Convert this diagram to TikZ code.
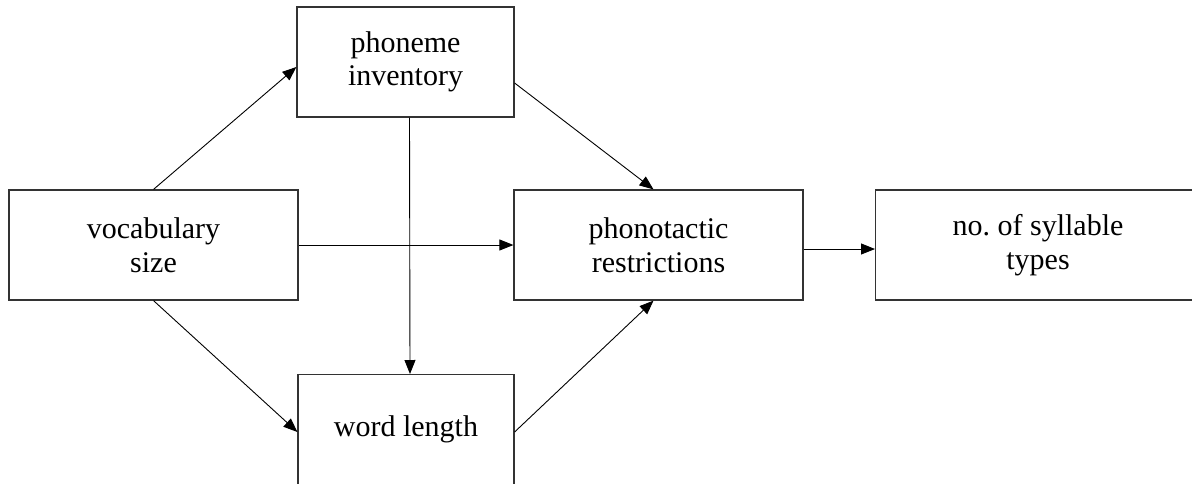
\documentclass[tikz,border=0pt]{standalone}
\usepackage{fontspec}
\setmainfont{Liberation Serif}
\usetikzlibrary{arrows.meta}
\begin{document}
\begin{tikzpicture}[x=1pt,y=-1pt,
  txt/.style={align=center,inner sep=0pt,font=\fontsize{30}{33.5}\selectfont},
  box/.style={draw=black!80,line width=1.2pt,fill=white,inner sep=0pt,txt},
  link/.style={line width=0.9pt,-{Triangle[length=14pt,width=11pt]}}]
\useasboundingbox (0,0) rectangle (1192,483);
\clip (0,0) rectangle (1192,483);
% boxes
\node[box,minimum width=217pt,minimum height=110pt] (phon) at (405.5,62) {phoneme\\inventory};
\node[box,minimum width=289pt,minimum height=110pt] (vocab) at (153.5,245) {vocabulary\\size};
\node[box,minimum width=289pt,minimum height=110pt] (tact) at (658.5,245) {phonotactic\\restrictions};
% the two boxes running off the edge of the page
\node[box,minimum width=420pt,minimum height=110pt,anchor=west,
  label={[txt,anchor=center,xshift=163pt]west:no.\ of syllable\\types}] (syl) at (875,245) {};
\node[box,minimum width=216pt,minimum height=150pt,anchor=north,
  label={[txt,anchor=center,yshift=-55pt]north:word length}] (word) at (406,374) {};
% connectors
\draw[link] (vocab.north) -- ([yshift=-5pt]phon.west);
\draw[link] (vocab.east) -- (tact.west);
\draw[link] (vocab.south) -- ([yshift=-58pt]word.north west);
\draw[link] ([xshift=4pt]phon.south) -- ([xshift=4pt]word.north);
\draw[link] ([yshift=-21pt]phon.east) -- ([xshift=-5pt]tact.north);
\draw[link] ([yshift=-58pt]word.north east) -- ([xshift=-5pt]tact.south);
\draw[link] ([yshift=-4pt]tact.east) -- ([yshift=-4pt]syl.west);
\end{tikzpicture}
\end{document}
